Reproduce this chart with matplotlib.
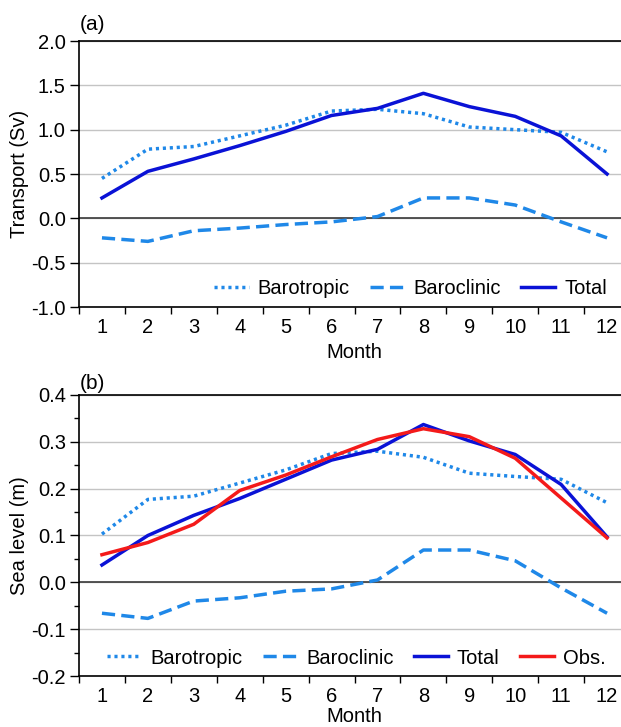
import matplotlib
matplotlib.use("Agg")
import matplotlib.pyplot as plt
from matplotlib.ticker import FixedLocator, MultipleLocator, FormatStrFormatter

plt.rcParams['font.family'] = ['Liberation Sans', 'DejaVu Sans']

months = list(range(1, 13))

# Panel (a): transport (Sv)
trans_barotropic = [0.45, 0.78, 0.81, 0.93, 1.05, 1.21, 1.23, 1.18, 1.03, 1.00, 0.97, 0.75]
trans_baroclinic = [-0.22, -0.26, -0.14, -0.11, -0.07, -0.04, 0.02, 0.23, 0.23, 0.15, -0.04, -0.22]
trans_total = [0.23, 0.53, 0.67, 0.82, 0.98, 1.16, 1.24, 1.41, 1.26, 1.15, 0.93, 0.50]

# Panel (b): sea level (m)
sl_barotropic = [0.103, 0.177, 0.184, 0.212, 0.240, 0.275, 0.280, 0.267, 0.233, 0.226, 0.220, 0.170]
sl_baroclinic = [-0.066, -0.077, -0.040, -0.033, -0.019, -0.014, 0.005, 0.069, 0.069, 0.046, -0.012, -0.066]
sl_total = [0.037, 0.100, 0.143, 0.179, 0.220, 0.261, 0.284, 0.337, 0.302, 0.273, 0.209, 0.097]
sl_obs = [0.059, 0.085, 0.124, 0.196, 0.229, 0.268, 0.305, 0.328, 0.311, 0.265, 0.180, 0.095]

c_light = '#1f88e8'
c_total = '#0a12d6'
c_obs = '#f41a1a'

W, H = 621, 727
fig = plt.figure(figsize=(W / 100, H / 100), dpi=100)

def px_axes(left, top, right, bottom):
    return fig.add_axes([left / W, 1 - bottom / H, (right - left) / W, (bottom - top) / H])

ax1 = px_axes(79, 41, 630, 307)
ax2 = px_axes(79, 395, 630, 676)

fs = 14.5
dotted = (0, (0.9, 1.1))
dashed = (0, (3.8, 1.8))
lw = 2.5

def style(ax, ylim, major, minor, ylabel, label, label_off, xpad):
    ax.set_xlim(0.5, 12.5)
    ax.set_ylim(*ylim)
    ax.xaxis.set_major_locator(FixedLocator([m - 0.5 for m in months] + [12.5]))
    ax.xaxis.set_major_formatter(plt.NullFormatter())
    ax.xaxis.set_minor_locator(FixedLocator(months))
    ax.set_xticklabels([str(m) for m in months], minor=True)
    ax.tick_params(axis='x', which='major', direction='out', length=5, width=1)
    ax.tick_params(axis='x', which='minor', length=0, labelsize=fs, pad=8)
    ax.yaxis.set_major_locator(MultipleLocator(major))
    ax.yaxis.set_major_formatter(FormatStrFormatter('%.1f'))
    if minor:
        ax.yaxis.set_minor_locator(MultipleLocator(minor))
        ax.tick_params(axis='y', which='minor', direction='out', length=3.5, width=1)
    ax.tick_params(axis='y', which='major', direction='out', length=6.5, width=1, labelsize=fs, pad=3)
    ax.grid(axis='y', which='major', color='#c4c4c4', linewidth=1)
    ax.axhline(0, color='#3a3a3a', linewidth=1.2, zorder=1)
    ax.set_axisbelow(True)
    for s in ['left', 'bottom', 'top', 'right']:
        ax.spines[s].set_linewidth(1.2)
        ax.spines[s].set_color('black')
    ax.set_ylabel(ylabel, fontsize=fs, labelpad=2)
    ax.set_xlabel('Month', fontsize=fs, labelpad=xpad)
    ax.annotate(label, xy=(0, 1), xycoords='axes fraction', xytext=(1, label_off),
                textcoords='offset pixels', fontsize=fs + 0.5, ha='left', va='baseline')

def add_legend(ax, ncol, xr, yc):
    ax.legend(loc='center right', bbox_to_anchor=(xr, yc), ncol=ncol, frameon=False, fontsize=fs,
              handlelength=1.7, columnspacing=1.0, handletextpad=0.45,
              borderaxespad=0, borderpad=0)

style(ax1, (-1.0, 2.0), 0.5, None, 'Transport (Sv)', '(a)', 11, 4)
ax1.plot(months, trans_barotropic, color=c_light, linestyle=dotted, linewidth=lw, label='Barotropic')
ax1.plot(months, trans_baroclinic, color=c_light, linestyle=dashed, linewidth=lw, label='Baroclinic')
ax1.plot(months, trans_total, color=c_total, linewidth=lw, label='Total')
add_legend(ax1, 3, 0.958, 0.068)

style(ax2, (-0.2, 0.4), 0.1, 0.05, 'Sea level (m)', '(b)', 6, 0.5)
ax2.plot(months, sl_barotropic, color=c_light, linestyle=dotted, linewidth=lw, label='Barotropic')
ax2.plot(months, sl_baroclinic, color=c_light, linestyle=dashed, linewidth=lw, label='Baroclinic')
ax2.plot(months, sl_total, color=c_total, linewidth=lw, label='Total')
ax2.plot(months, sl_obs, color=c_obs, linewidth=lw, label='Obs.')
add_legend(ax2, 4, 0.956, 0.064)

fig.savefig('out.png', dpi=100)
